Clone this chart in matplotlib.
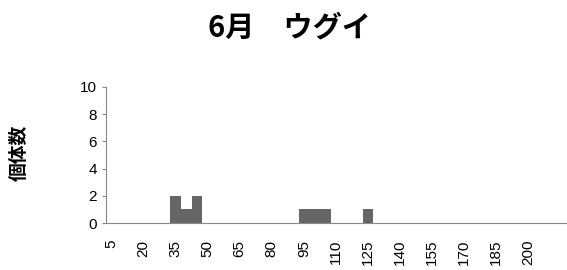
import numpy as np
import matplotlib
matplotlib.use("Agg")
import matplotlib.pyplot as plt

# size classes (5 mm steps) and fish counts
sizes = list(range(5, 220, 5))
counts = [0] * len(sizes)
observed = {35: 2, 40: 1, 45: 2, 95: 1, 100: 1, 105: 1, 125: 1}
for s, c in observed.items():
    counts[sizes.index(s)] = c

title = "6月\u3000ウグイ"
ylabel = "個体数"

jp = ["Noto Sans CJK JP", "DejaVu Sans"]
plt.rcParams["font.family"] = ["Liberation Sans", "Noto Sans CJK JP", "DejaVu Sans"]

fig = plt.figure(figsize=(5.67, 2.70), dpi=100)
ax = fig.add_axes([0.187, 0.174, 0.811, 0.504])

x = np.arange(len(sizes))
ax.bar(x, counts, width=1.0, color="#666666", linewidth=0)

ax.set_xlim(-0.5, len(sizes) - 0.5)
ax.set_ylim(0, 10)
ax.set_yticks(range(0, 11, 2))
# every third class is labelled; the last class (215) carries no label
tick_idx = x[::3][:-1]
ax.set_xticks(tick_idx)
ax.set_xticklabels([str(sizes[i]) for i in tick_idx], rotation=90, fontsize=11)
ax.tick_params(axis="y", labelsize=11, length=3, color="#888888")
ax.tick_params(axis="x", length=0, pad=12)

for side in ("top", "right"):
    ax.spines[side].set_visible(False)
for side in ("left", "bottom"):
    ax.spines[side].set_color("#888888")

fig.text(0.511, 0.9, title, ha="center", va="center", fontsize=21,
         fontweight="bold", family=jp)
fig.text(0.034, 0.433, ylabel, ha="center", va="center", rotation=90,
         fontsize=13.5, fontweight="bold", family=jp)

fig.savefig("out.png", dpi=100)
